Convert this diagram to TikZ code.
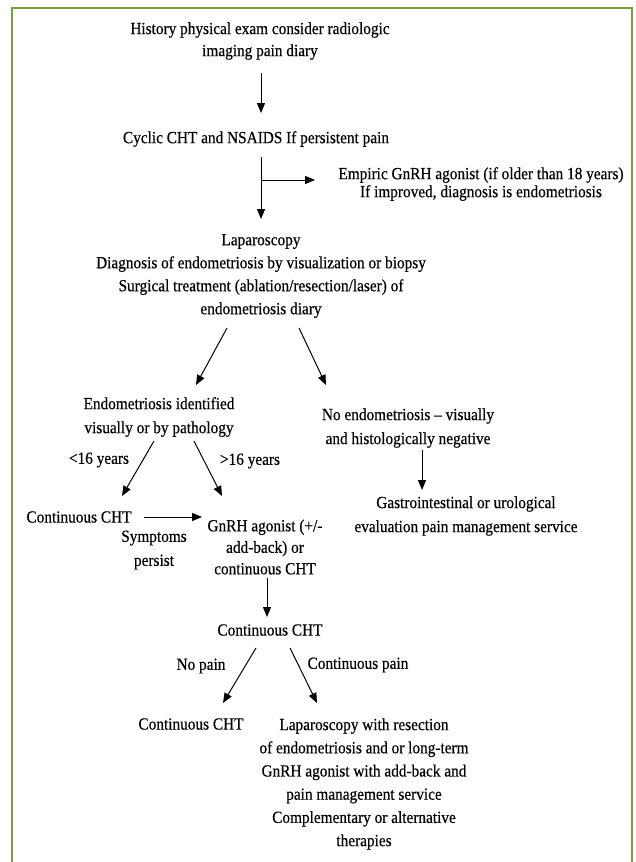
\documentclass[tikz,border=0pt]{standalone}
\usepackage{fontspec}
\setmainfont{Liberation Serif}[FakeStretch=0.9,FakeBold=0.4]
\usetikzlibrary{arrows.meta}
\definecolor{framegreen}{RGB}{122,158,66}
\begin{document}
\begin{tikzpicture}[x=1pt,y=-1pt,
  txt/.style={font=\fontsize{17}{#1}\selectfont, align=center, inner sep=0pt, text=black},
  txt/.default=23,
  arr/.style={-{Triangle[length=10pt,width=8pt]}, line width=1pt, black}]
\path[use as bounding box, fill=white] (0,0) rectangle (635,862);
\draw[framegreen, line width=2pt] (12,862) -- (12,8) -- (632,8) -- (632,862);

% nodes
\node[txt=22] (hist) at (260,41) {History physical exam consider radiologic\\imaging pain diary};
\node[txt] (cyc) at (256,139) {Cyclic CHT and NSAIDS If persistent pain};
\node[txt=18] (emp) at (481,184) {Empiric GnRH agonist (if older than 18 years)\\If improved, diagnosis is endometriosis};
\node[txt=23] (lap) at (261,276) {Laparoscopy\\Diagnosis of endometriosis by visualization or biopsy\\Surgical treatment (ablation/resection/laser) of\\endometriosis diary};
\node[txt=24] (endo) at (159,417) {Endometriosis identified\\visually or by pathology};
\node[txt=24] (noendo) at (408,428) {No endometriosis – visually\\and histologically negative};
\node[txt] (lt16) at (99,460) {<16 years};
\node[txt] (gt16) at (250,461) {>16 years};
\node[txt=24] (gastro) at (466,516) {Gastrointestinal or urological\\evaluation pain management service};
\node[txt] (cont1) at (79,517) {Continuous CHT};
\node[txt=21.5] (gnrh) at (265,547) {GnRH agonist (+/-\\add-back) or\\continuous CHT};
\node[txt=24] (symp) at (154,550) {Symptoms\\persist};
\node[txt] (cont2) at (270,630) {Continuous CHT};
\node[txt] (nopain) at (201,666) {No pain};
\node[txt] (contpain) at (358,665) {Continuous pain};
\node[txt] (cont3) at (191,724) {Continuous CHT};
\node[txt=23.2] (final) at (364,784) {Laparoscopy with resection\\of endometriosis and or long-term\\GnRH agonist with add-back and\\pain management service\\Complementary or alternative\\therapies};

% connectors
\draw[arr] ([shift={(1,32)}]hist.center) -- ([shift={(5,-26)}]cyc.center);
\draw[arr] ([shift={(5,18)}]cyc.center) -- ([shift={(0,-57)}]lap.center);
\coordinate (jn) at ([shift={(5,41)}]cyc.center);
\draw[arr] (jn) -- ([shift={(-166,-4)}]emp.center);
\draw[arr] ([shift={(-34,52)}]lap.center) -- ([shift={(37,-32)}]endo.center);
\draw[arr] ([shift={(38,52)}]lap.center) -- ([shift={(-82,-43)}]noendo.center);
\draw[arr] ([shift={(-5,24)}]endo.center) -- ([shift={(43,-21)}]cont1.center);
\draw[arr] ([shift={(35,24)}]endo.center) -- ([shift={(-43,-51)}]gnrh.center);
\draw[arr] ([shift={(14,22)}]noendo.center) -- ([shift={(-44,-26)}]gastro.center);
\draw[arr] ([shift={(65,0)}]cont1.center) -- ([shift={(-63,-30)}]gnrh.center);
\draw[arr] ([shift={(2,31)}]gnrh.center) -- ([shift={(-3,-13)}]cont2.center);
\draw[arr] ([shift={(-14,18)}]cont2.center) -- ([shift={(32,-21)}]cont3.center);
\draw[arr] ([shift={(20,18)}]cont2.center) -- ([shift={(-47,-81)}]final.center);
\end{tikzpicture}
\end{document}
